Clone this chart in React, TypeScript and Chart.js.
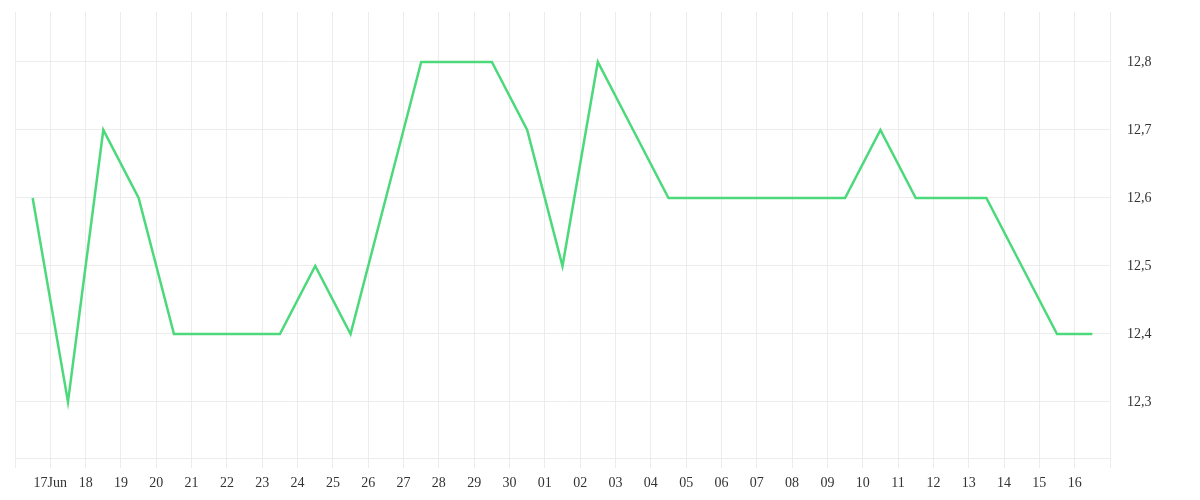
import React, { useEffect, useRef } from "react";
import { Chart, registerables } from "chart.js";

Chart.register(...registerables);

// One value per day, 16 Jun .. 16 Jul
const days = [
  "16", "17", "18", "19", "20", "21", "22", "23", "24", "25", "26", "27", "28", "29", "30",
  "01", "02", "03", "04", "05", "06", "07", "08", "09", "10", "11", "12", "13", "14", "15", "16",
];
const values = [
  12.6, 12.3, 12.7, 12.6, 12.4, 12.4, 12.4, 12.4, 12.5, 12.4, 12.6, 12.8, 12.8, 12.8, 12.7,
  12.5, 12.8, 12.7, 12.6, 12.6, 12.6, 12.6, 12.6, 12.6, 12.7, 12.6, 12.6, 12.6, 12.5, 12.4, 12.4,
];
// Tick labels at day boundaries (17 Jun .. 16 Jul)
const tickLabels = [
  "17Jun", "18", "19", "20", "21", "22", "23", "24", "25", "26", "27", "28", "29", "30",
  "01", "02", "03", "04", "05", "06", "07", "08", "09", "10", "11", "12", "13", "14", "15", "16",
];
const yMin = 12.2176;
const yMax = 12.8735;
const yStep = 0.1;

const FONT = "'Liberation Serif', serif";

export default function App() {
  const ref = useRef<HTMLCanvasElement | null>(null);
  useEffect(() => {
    if (!ref.current) return;
    const points = values.map((v, i) => ({ x: i + 0.5, y: v }));
    const chart = new Chart(ref.current, {
      type: "line",
      data: {
        labels: days,
        datasets: [
          {
            data: points as any,
            borderColor: "rgb(76,217,123)",
            borderWidth: 2.5,
            pointRadius: 0,
            tension: 0,
            fill: false,
          },
        ],
      },
      options: {
        animation: false,
        responsive: true,
        maintainAspectRatio: false,
        layout: { padding: { left: 7, top: 4, right: 0, bottom: 0 } },
        plugins: { legend: { display: false }, tooltip: { enabled: false } },
        scales: {
          x: {
            type: "linear",
            min: 0,
            max: days.length,
            afterFit: (s: any) => {
              s.height = 34;
              s.paddingLeft = 0;
              s.paddingRight = 0;
            },
            grid: { color: "#ececec", lineWidth: 1, tickLength: 10, drawTicks: true },
            border: { color: "#ececec" },
            ticks: {
              stepSize: 1,
              autoSkip: false,
              maxRotation: 0,
              padding: 7,
              color: "#333",
              font: { family: FONT, size: 14 },
              callback: (v: any) => {
                const n = Math.round(Number(v));
                return n >= 1 && n <= tickLabels.length ? tickLabels[n - 1] : "";
              },
            },
          },
          y: {
            position: "right",
            min: yMin,
            max: yMax,
            afterFit: (s: any) => {
              s.width = 82;
              s.paddingTop = 0;
              s.paddingBottom = 0;
            },
            grid: { color: "#ececec", drawTicks: false },
            border: { color: "#ececec" },
            ticks: {
              stepSize: yStep,
              includeBounds: false,
              padding: 17,
              color: "#333",
              font: { family: FONT, size: 14 },
              callback: (v: any) => Number(v).toFixed(1).replace(".", ","),
            },
          },
        },
      },
    });
    return () => chart.destroy();
  }, []);
  return (
    <div style={{ width: "100%", height: 484, position: "relative" }}>
      <canvas ref={ref} />
    </div>
  );
}
